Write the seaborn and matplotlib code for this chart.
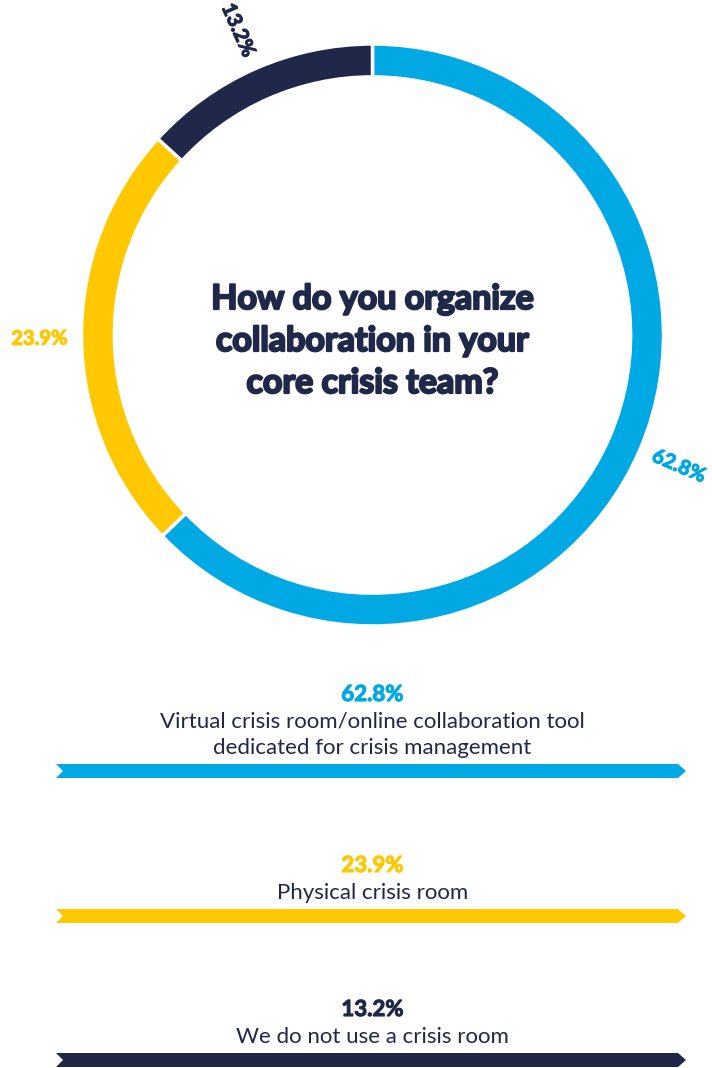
import matplotlib
matplotlib.use("Agg")
import matplotlib.pyplot as plt
import matplotlib.patheffects as pe
import seaborn as sns
import numpy as np
from matplotlib.patches import Polygon

# Survey answers, in drawing order (clockwise from 12 o'clock)
answers = [
    "Virtual crisis room/online collaboration tool\ndedicated for crisis management",
    "Physical crisis room",
    "We do not use a crisis room",
]
shares = [62.8, 23.9, 13.2]
share_labels = ["62.8%", "23.9%", "13.2%"]
question = ["How do you organize", "collaboration in your", "core crisis team?"]

sns.set_theme(style="white")
plt.rcParams["font.family"] = ["Lato", "DejaVu Sans"]

palette = sns.color_palette(["#00A8E4", "#FFC800", "#1F2849"])
navy = palette[2]


def heavy(col, lw):
    # thicken bold glyphs with an outline in the same colour
    return [pe.withStroke(linewidth=lw, foreground=col)]


W, H = 712, 1068
fig = plt.figure(figsize=(W / 100, H / 100), dpi=100)
fig.patch.set_facecolor("white")

# Donut axes: unit radius maps to ~291 px, centred at (372.5, 335) px
cx, cy, R = 372.5, 335.0, 291.0
span = 1.1 * R
ax = fig.add_axes([(cx - span) / W, 1 - (cy + span) / H, 2 * span / W, 2 * span / H])
wedges, _ = ax.pie(
    shares,
    colors=palette,
    startangle=90,
    counterclock=False,
    radius=1.0,
    wedgeprops=dict(width=0.113, edgecolor="white", linewidth=2.5),
)
ax.set_xlim(-1.1, 1.1)
ax.set_ylim(-1.1, 1.1)
ax.set_aspect("equal")
ax.axis("off")

for w, lab, col in zip(wedges, share_labels, palette):
    mid_n = ((w.theta1 + w.theta2) / 2.0) % 360
    rad = np.deg2rad(mid_n)
    rot = mid_n
    if 90 < mid_n < 270:
        rot = mid_n - 180
    elif mid_n >= 270:
        rot = mid_n - 360
    ax.text(1.145 * np.cos(rad), 1.145 * np.sin(rad), lab, color=col,
            fontsize=14.5, fontweight="bold", rotation=rot,
            ha="center", va="center", rotation_mode="anchor",
            path_effects=heavy(col, 0.8))

# Overlay in pixel coordinates for the question and the answer banners
ov = fig.add_axes([0, 0, 1, 1])
ov.set_xlim(0, W)
ov.set_ylim(H, 0)
ov.axis("off")
ov.patch.set_alpha(0)

for base, line in zip([309, 351, 393], question):
    ov.text(cx, base, line, color=navy, fontsize=24.5, fontweight="bold",
            ha="center", va="baseline", path_effects=heavy(navy, 1.6))

banner_tops = [764, 909, 1053]
x0, x1, notch, tip, thick = 56, 686, 7, 8, 14
for top, ans, lab, col in zip(banner_tops, answers, share_labels, palette):
    bot = top + thick
    mid = top + thick / 2
    ov.add_patch(Polygon(
        [(x0, top), (x1 - tip, top), (x1, mid), (x1 - tip, bot), (x0, bot), (x0 + notch, mid)],
        closed=True, facecolor=col, edgecolor="none"))
    lines = ans.split("\n")
    base = top - 10 - 26 * (len(lines) - 1)
    for i, ln in enumerate(lines):
        ov.text(cx, base + 26 * i, ln, color=navy, fontsize=16,
                ha="center", va="baseline")
    ov.text(cx, base - 27, lab, color=col, fontsize=16, fontweight="bold",
            ha="center", va="baseline", path_effects=heavy(col, 0.8))

fig.savefig("out.png", dpi=100, facecolor="white")
